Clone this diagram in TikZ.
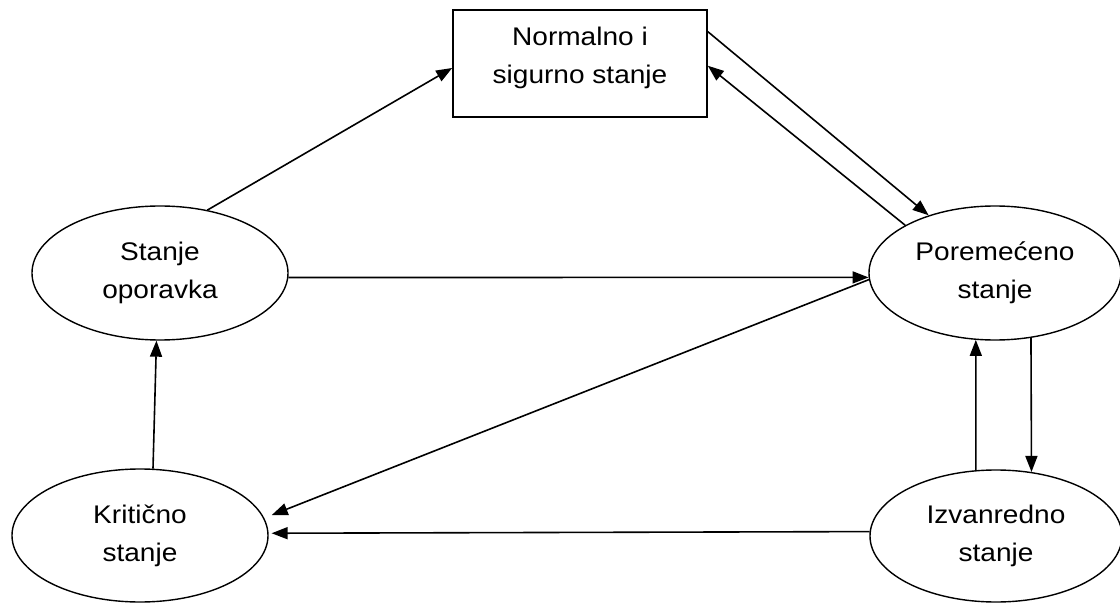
\documentclass[tikz,border=0pt]{standalone}
\usepackage{fontspec}
\setmainfont[FakeStretch=1.1]{Liberation Sans}
\usetikzlibrary{shapes.geometric,arrows.meta}
\begin{document}
\begin{tikzpicture}[x=1pt,y=-1pt,
  every node/.style={font=\fontsize{25.5}{38}\selectfont, align=center, text=black},
  box/.style={draw, rectangle, line width=1.6pt, inner sep=0pt, minimum width=254pt, minimum height=107pt},
  state/.style={draw, ellipse, line width=1.4pt, inner sep=0pt},
  conn/.style={line width=1.6pt, -{Triangle[length=16pt,width=12pt]}}]
\useasboundingbox (0,0) rectangle (1120,604);
\node[box] (norm) at (580,63.5) {Normalno i\\sigurno stanje\rule[-17pt]{0pt}{1pt}};
\node[state, minimum width=256pt, minimum height=134pt] (opor) at (160,273) {Stanje\\oporavka};
\node[state, minimum width=252pt, minimum height=134pt] (pore) at (995,273) {Poremećeno\\stanje};
\node[state, minimum width=256pt, minimum height=133pt] (krit) at (140,535.5) {Kritično\\stanje};
\node[state, minimum width=252pt, minimum height=132pt] (izv) at (996,536) {Izvanredno\\stanje};
\draw[conn] (opor.53) -- (norm.182);
\draw[conn] (norm.14.7) -- (pore.139);
\draw[conn] (pore.152) -- (norm.-1);
\draw[conn] (opor.-2.7) -- (pore.182.7);
\draw[conn, shorten >=8pt] (pore.183.6) -- (krit.8.8);
\draw[conn, shorten >=3pt] (izv.178.6) -- (krit.1.1);
\draw[conn] (krit.79) -- (opor.267.4);
\draw[conn] (izv.107.9) -- (pore.-106.8);
\draw[conn] (pore.-61.5) -- (izv.61.9);
\end{tikzpicture}
\end{document}
